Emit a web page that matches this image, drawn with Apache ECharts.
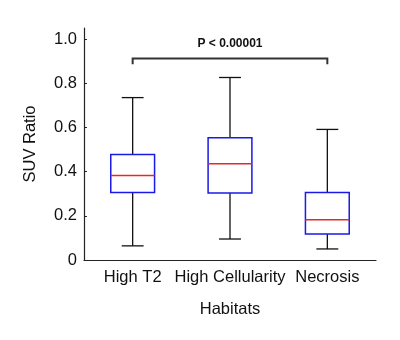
<!DOCTYPE html>
<html>
<head>
<meta charset="utf-8">
<script src="https://cdn.jsdelivr.net/npm/echarts@6/dist/echarts.min.js"></script>
<style>
  html, body { margin: 0; padding: 0; background: #fff; }
  #chart { width: 400px; height: 340px; }
</style>
</head>
<body>
<div id="chart"></div>
<script>
const categories = ['High T2', 'High Cellularity', 'Necrosis']
// [min, q1, median, q3, max]
const boxValues = [
  [0.064, 0.306, 0.382, 0.477, 0.735],
  [0.095, 0.303, 0.436, 0.553, 0.826],
  [0.05, 0.118, 0.182, 0.306, 0.591]
]
const yTicks = [0, 0.2, 0.4, 0.6, 0.8, 1.0]
// bracket: from category, to category, top value, leg end value
const bracket = [0, 2, 0.912, 0.886]
const pText = 'P < 0.00001'
const pTextValue = 0.98

const font = 'Liberation Sans, Arial, Helvetica, sans-serif'
const fs = 16.5

const chart = echarts.init(document.getElementById('chart'))

const boxData = boxValues.map((v, i) => [i].concat(v))

const option = {
  animation: false,
  grid: { left: 84, right: 24, top: 28, bottom: 80 },
  xAxis: {
    type: 'category',
    data: categories,
    name: 'Habitats',
    nameLocation: 'middle',
    nameGap: 41,
    nameTextStyle: { fontFamily: font, fontSize: fs, color: '#111' },
    axisLine: { lineStyle: { color: '#222', width: 1.2 } },
    axisTick: { alignWithLabel: true, inside: true, length: 3, lineStyle: { color: '#222' } },
    axisLabel: { fontFamily: font, fontSize: fs, color: '#111', margin: 9, interval: 0, hideOverlap: false }
  },
  yAxis: {
    type: 'value',
    min: 0,
    max: 1.05,
    name: 'SUV Ratio',
    nameLocation: 'middle',
    nameGap: 45,
    nameTextStyle: { fontFamily: font, fontSize: fs, color: '#111' },
    splitLine: { show: false },
    axisLine: { show: true, lineStyle: { color: '#222', width: 1.2 } },
    axisTick: {
      show: true,
      inside: true,
      length: 3,
      customValues: yTicks,
      lineStyle: { color: '#222' }
    },
    axisLabel: {
      fontFamily: font,
      fontSize: fs,
      color: '#111',
      margin: 7,
      customValues: yTicks,
      formatter: (v) => (v === 0 ? '0' : v.toFixed(1))
    }
  },
  series: [
    {
      type: 'custom',
      data: boxData,
      encode: { x: 0, y: [1, 2, 3, 4, 5] },
      clip: false,
      renderItem: (params, api) => {
        const x = api.value(0)
        const pMin = api.coord([x, api.value(1)])
        const pQ1 = api.coord([x, api.value(2)])
        const pMed = api.coord([x, api.value(3)])
        const pQ3 = api.coord([x, api.value(4)])
        const pMax = api.coord([x, api.value(5)])
        const bw = api.size([1, 0])[0] * 0.45
        const cw = bw / 2
        const cx = pMin[0]
        const black = { stroke: '#111', lineWidth: 1.3 }
        return {
          type: 'group',
          children: [
            { type: 'line', shape: { x1: cx, y1: pQ3[1], x2: cx, y2: pMax[1] }, style: black },
            { type: 'line', shape: { x1: cx, y1: pQ1[1], x2: cx, y2: pMin[1] }, style: black },
            { type: 'line', shape: { x1: cx - cw / 2, y1: pMax[1], x2: cx + cw / 2, y2: pMax[1] }, style: black },
            { type: 'line', shape: { x1: cx - cw / 2, y1: pMin[1], x2: cx + cw / 2, y2: pMin[1] }, style: black },
            {
              type: 'rect',
              shape: { x: cx - bw / 2, y: pQ3[1], width: bw, height: pQ1[1] - pQ3[1] },
              style: { fill: '#fff', stroke: '#1a1ae6', lineWidth: 1.5 }
            },
            {
              type: 'line',
              shape: { x1: cx - bw / 2, y1: pMed[1], x2: cx + bw / 2, y2: pMed[1] },
              style: { stroke: '#e8262b', lineWidth: 1.5 }
            }
          ]
        }
      }
    },
    {
      type: 'custom',
      data: [bracket],
      encode: { x: [0, 1], y: [2, 3] },
      clip: false,
      renderItem: (params, api) => {
        const a = api.coord([api.value(0), api.value(3)])
        const b = api.coord([api.value(0), api.value(2)])
        const c = api.coord([api.value(1), api.value(2)])
        const d = api.coord([api.value(1), api.value(3)])
        const t = api.coord([(api.value(0) + api.value(1)) / 2, pTextValue])
        return {
          type: 'group',
          children: [
            {
              type: 'polyline',
              shape: { points: [a, b, c, d] },
              style: { stroke: '#333', lineWidth: 2, fill: null }
            },
            {
              type: 'text',
              x: t[0],
              y: t[1],
              style: {
                text: pText,
                fontFamily: font,
                fontSize: 12,
                fontWeight: 'bold',
                fill: '#111',
                align: 'center',
                verticalAlign: 'middle'
              }
            }
          ]
        }
      }
    }
  ]
}

chart.setOption(option)
</script>
</body>
</html>
